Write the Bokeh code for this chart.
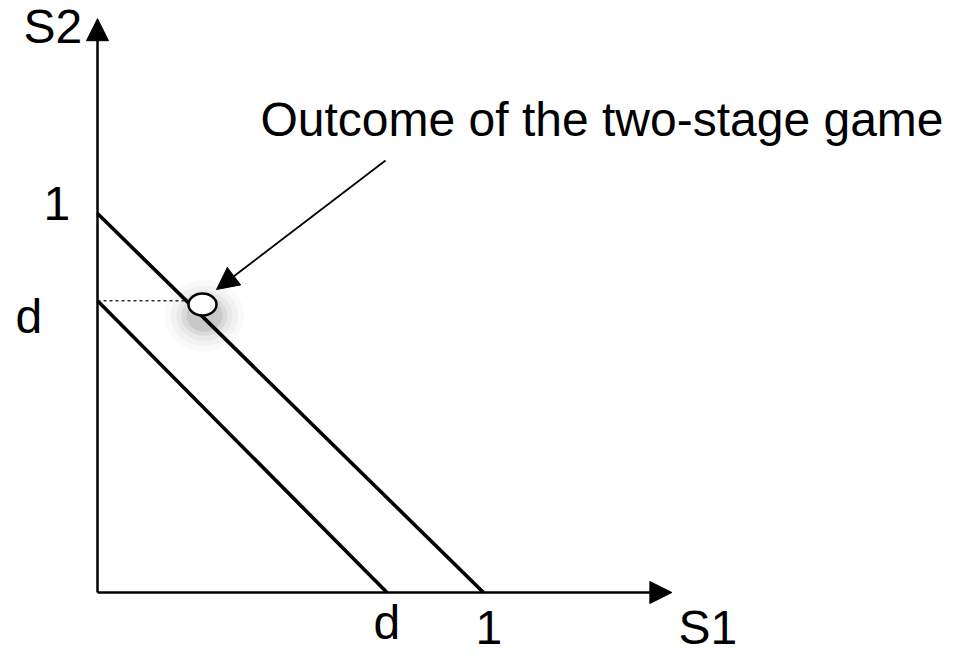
from bokeh.plotting import figure
from bokeh.models import Range1d, Arrow, NormalHead, ColumnDataSource
from bokeh.core.properties import value
from bokeh.embed import file_html
from bokeh.resources import INLINE

# ---- data ----
line1_s1 = [0.0, 1.0]          # S1 + S2 = 1
line1_s2 = [1.0, 0.0]
d_on_s1 = 0.75                 # d marked on S1 axis
d_on_s2 = 0.77                 # d marked on S2 axis
outcome_s1 = [0.272]
outcome_s2 = [0.760]
axis_end_s1 = 1.488
axis_end_s2 = 1.514

tick_labels = ["1", "d"]
axis_names = ["S1", "S2"]
annotation = "Outcome of the two-stage game"

# pixel mapping helpers (origin at (97,592); 386 px per S1 unit, 379 px per S2 unit)
def X(px):
    return (px - 97) / 386.0

def Y(py):
    return (592 - py) / 379.0

W, H = 953, 656
p = figure(width=W, height=H, output_backend="svg", toolbar_location=None,
           x_range=Range1d(X(0), X(W)), y_range=Range1d(Y(H), Y(0)),
           min_border=0, min_border_left=0, min_border_right=0,
           min_border_top=0, min_border_bottom=0)
p.axis.visible = False
p.grid.visible = False
p.outline_line_color = None
p.background_fill_color = "white"
p.border_fill_color = "white"

FONT = value("Liberation Sans")

# axes with arrow heads
p.add_layout(Arrow(end=NormalHead(size=22, fill_color="black", line_color="black", line_width=1),
                   x_start=0, y_start=0, x_end=axis_end_s1, y_end=0,
                   line_width=2.5, line_color="black"))
p.add_layout(Arrow(end=NormalHead(size=22, fill_color="black", line_color="black", line_width=1),
                   x_start=0, y_start=0, x_end=0, y_end=axis_end_s2,
                   line_width=2.5, line_color="black"))

# budget lines
p.line(line1_s1, line1_s2, line_width=3.6, line_color="black")
p.line([0.0, d_on_s1], [d_on_s2, 0.0], line_width=3.6, line_color="black")

# dotted guide to d on S2
p.line([0.0, outcome_s1[0] - 0.03], [d_on_s2, d_on_s2], line_width=1.5,
       line_color="#333333", line_dash="3 3")

# soft shadow under outcome point
for (w, h, a) in [(80, 72, 0.02), (68, 60, 0.03), (56, 50, 0.04),
                  (46, 40, 0.06), (36, 32, 0.08)]:
    p.ellipse(x=[outcome_s1[0] + 0.005], y=[outcome_s2[0] - 0.03],
              width=w / 386.0, height=h / 379.0,
              fill_color="black", fill_alpha=a, line_color=None)

# outcome point
p.ellipse(x=outcome_s1, y=outcome_s2, width=28 / 386.0, height=22 / 379.0,
          fill_color="white", line_color="black", line_width=2.5)

# pointer arrow
p.add_layout(Arrow(end=NormalHead(size=22, fill_color="black", line_color="black", line_width=1),
                   x_start=X(385), y_start=Y(160), x_end=X(216), y_end=Y(289),
                   line_width=1.8, line_color="black"))

# texts (baseline positions, shifted to compensate for renderer offset)
SH = 19
texts = [
    (annotation, X(260), Y(138 - SH)),
    (axis_names[1], X(23), Y(45 - SH)),
    (axis_names[0], X(678), Y(646 - SH)),
    (tick_labels[0], X(43), Y(222 - SH)),
    (tick_labels[1], X(15), Y(335 - SH)),
    (tick_labels[1], X(373), Y(641 - SH)),
    (tick_labels[0], X(475), Y(646 - SH)),
]
src = ColumnDataSource(dict(t=[t[0] for t in texts], x=[t[1] for t in texts],
                            y=[t[2] for t in texts]))
p.text(x="x", y="y", text="t", source=src, text_font=FONT, text_font_size="48px",
       text_color="black", text_align="left", text_baseline="alphabetic")

open("out.html", "w").write(file_html(p, INLINE))
